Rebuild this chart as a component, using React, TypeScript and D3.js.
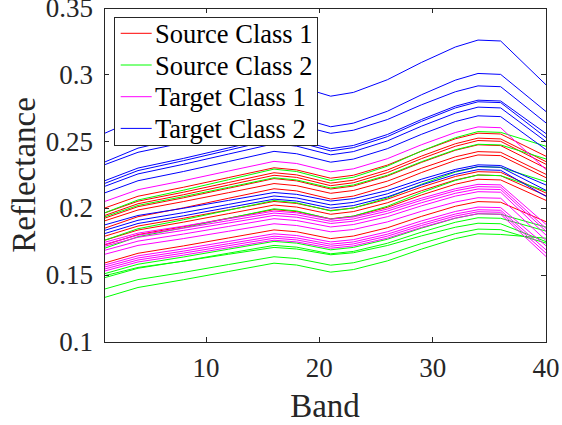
import React from "react";
import * as d3 from "d3";

// Band positions at which each spectrum is sampled
const bands = [1, 4, 8, 12, 16, 18, 21, 23, 26, 29, 32, 34, 36, 40];

// Source Class 1 spectra
const sourceClass1 = [
  [0.2001, 0.2091, 0.2158, 0.2231, 0.2304, 0.2288, 0.2226, 0.2248, 0.2324, 0.2428, 0.2521, 0.2563, 0.2557, 0.239],
  [0.1964, 0.2054, 0.2121, 0.2194, 0.2267, 0.2251, 0.2189, 0.2211, 0.2287, 0.2391, 0.2484, 0.2526, 0.252, 0.235],
  [0.1945, 0.2035, 0.2102, 0.2175, 0.2248, 0.2232, 0.217, 0.2192, 0.2268, 0.2372, 0.2465, 0.2508, 0.2502, 0.233],
  [0.1925, 0.2013, 0.2079, 0.2151, 0.2223, 0.2206, 0.2145, 0.2167, 0.2242, 0.2344, 0.2435, 0.2476, 0.247, 0.23],
  [0.1905, 0.1988, 0.2051, 0.2118, 0.2186, 0.217, 0.2113, 0.2134, 0.2204, 0.23, 0.2386, 0.2425, 0.242, 0.2255],
  [0.185, 0.1938, 0.2004, 0.2076, 0.2147, 0.2131, 0.207, 0.2092, 0.2166, 0.2268, 0.2359, 0.24, 0.2395, 0.223],
  [0.179, 0.1868, 0.1926, 0.1989, 0.2052, 0.2037, 0.1984, 0.2003, 0.2069, 0.2159, 0.2239, 0.2275, 0.227, 0.2115],
  [0.176, 0.1838, 0.1897, 0.1961, 0.2025, 0.201, 0.1956, 0.1976, 0.2042, 0.2132, 0.2213, 0.225, 0.2245, 0.2095],
  [0.1725, 0.1804, 0.1863, 0.1927, 0.1991, 0.1976, 0.1922, 0.1942, 0.2008, 0.21, 0.2181, 0.2218, 0.2213, 0.206],
  [0.159, 0.1664, 0.1719, 0.1779, 0.1839, 0.1825, 0.1774, 0.1793, 0.1855, 0.194, 0.2016, 0.2051, 0.2046, 0.19],
];

// Source Class 2 spectra
const sourceClass2 = [
  [0.1965, 0.2063, 0.2136, 0.2215, 0.2294, 0.2276, 0.2209, 0.2233, 0.2316, 0.2429, 0.2529, 0.2575, 0.2569, 0.2465],
  [0.1935, 0.2022, 0.2088, 0.2158, 0.2229, 0.2213, 0.2153, 0.2175, 0.2248, 0.2349, 0.2439, 0.248, 0.2475, 0.237],
  [0.176, 0.1848, 0.1915, 0.1987, 0.2059, 0.2042, 0.1981, 0.2003, 0.2078, 0.218, 0.2272, 0.2313, 0.2307, 0.22],
  [0.17, 0.1788, 0.1854, 0.1926, 0.1997, 0.1981, 0.192, 0.1942, 0.2016, 0.2118, 0.2209, 0.225, 0.2245, 0.213],
  [0.151, 0.1582, 0.1636, 0.1695, 0.1753, 0.174, 0.169, 0.1708, 0.1769, 0.1852, 0.1926, 0.196, 0.1956, 0.186],
  [0.1495, 0.1558, 0.1605, 0.1657, 0.1708, 0.1696, 0.1653, 0.1668, 0.1722, 0.1794, 0.1859, 0.1889, 0.1885, 0.1751],
  [0.148, 0.1552, 0.1606, 0.1665, 0.1723, 0.171, 0.166, 0.1678, 0.1739, 0.1822, 0.1896, 0.193, 0.1926, 0.183],
  [0.1395, 0.1467, 0.1521, 0.158, 0.1638, 0.1625, 0.1575, 0.1593, 0.1654, 0.1737, 0.1811, 0.1845, 0.1841, 0.174],
  [0.1332, 0.1408, 0.1466, 0.1528, 0.159, 0.1576, 0.1523, 0.1542, 0.1607, 0.1695, 0.1774, 0.181, 0.1805, 0.1777],
];

// Target Class 1 spectra
const targetClass1 = [
  [0.205, 0.214, 0.2207, 0.228, 0.2352, 0.2336, 0.2274, 0.2296, 0.2372, 0.2476, 0.2568, 0.261, 0.2604, 0.229],
  [0.1745, 0.1815, 0.1867, 0.1923, 0.198, 0.1967, 0.1919, 0.1936, 0.1995, 0.2076, 0.2147, 0.218, 0.2176, 0.188],
  [0.173, 0.18, 0.1852, 0.1908, 0.1965, 0.1952, 0.1904, 0.1921, 0.198, 0.2061, 0.2132, 0.2163, 0.2159, 0.185],
  [0.1715, 0.1784, 0.1835, 0.1891, 0.1947, 0.1934, 0.1887, 0.1904, 0.1962, 0.2042, 0.2113, 0.2145, 0.2141, 0.183],
  [0.1685, 0.1755, 0.1808, 0.1865, 0.1923, 0.1909, 0.1861, 0.1879, 0.1938, 0.2019, 0.2092, 0.2125, 0.2121, 0.18],
  [0.1655, 0.1723, 0.1774, 0.1829, 0.1885, 0.1872, 0.1825, 0.1842, 0.1899, 0.1978, 0.2048, 0.208, 0.2076, 0.176],
  [0.1575, 0.1645, 0.1697, 0.1753, 0.181, 0.1797, 0.1749, 0.1766, 0.1825, 0.1906, 0.1977, 0.201, 0.2006, 0.172],
  [0.156, 0.1629, 0.168, 0.1736, 0.1792, 0.1779, 0.1732, 0.1749, 0.1807, 0.1887, 0.1958, 0.199, 0.1986, 0.169],
  [0.1545, 0.1614, 0.1665, 0.1721, 0.1777, 0.1764, 0.1717, 0.1734, 0.1792, 0.1872, 0.1943, 0.1975, 0.1971, 0.1665],
  [0.153, 0.1599, 0.165, 0.1706, 0.1762, 0.1749, 0.1702, 0.1719, 0.1777, 0.1857, 0.1928, 0.196, 0.1956, 0.164],
];

// Target Class 2 spectra
const targetClass2 = [
  [0.256, 0.2672, 0.2756, 0.2847, 0.2938, 0.2917, 0.284, 0.2868, 0.2963, 0.3092, 0.3208, 0.326, 0.3253, 0.2925],
  [0.2345, 0.2451, 0.2531, 0.2618, 0.2704, 0.2684, 0.2611, 0.2638, 0.2727, 0.285, 0.296, 0.301, 0.3003, 0.2725],
  [0.2325, 0.242, 0.2491, 0.2568, 0.2645, 0.2627, 0.2562, 0.2585, 0.2665, 0.2775, 0.2873, 0.2917, 0.2911, 0.264],
  [0.2205, 0.2302, 0.2374, 0.2453, 0.2532, 0.2514, 0.2447, 0.2471, 0.2553, 0.2665, 0.2765, 0.281, 0.2804, 0.256],
  [0.2185, 0.2283, 0.2357, 0.2436, 0.2516, 0.2498, 0.243, 0.2455, 0.2537, 0.2651, 0.2752, 0.2798, 0.2792, 0.253],
  [0.2163, 0.2258, 0.233, 0.2407, 0.2484, 0.2466, 0.2401, 0.2425, 0.2505, 0.2615, 0.2713, 0.2758, 0.2752, 0.25],
  [0.2114, 0.2207, 0.2276, 0.2351, 0.2427, 0.2409, 0.2346, 0.2369, 0.2447, 0.2554, 0.265, 0.2693, 0.2687, 0.244],
  [0.1875, 0.1947, 0.2001, 0.206, 0.2119, 0.2105, 0.2055, 0.2073, 0.2134, 0.2218, 0.2292, 0.2326, 0.2321, 0.2175],
  [0.1834, 0.1911, 0.1968, 0.203, 0.2093, 0.2078, 0.2026, 0.2045, 0.2109, 0.2198, 0.2277, 0.2313, 0.2308, 0.2135],
  [0.181, 0.1887, 0.1944, 0.2007, 0.2069, 0.2055, 0.2002, 0.2021, 0.2086, 0.2175, 0.2254, 0.229, 0.2285, 0.209],
];

const seriesNames = ["Source Class 1", "Source Class 2", "Target Class 1", "Target Class 2"];
const seriesColors = ["#ff0000", "#00ff00", "#ff00ff", "#0000ff"];
const xTicks = [10, 20, 30, 40];
const yTicks = [0.1, 0.15, 0.2, 0.25, 0.3, 0.35];
const xLabel = "Band";
const yLabel = "Reflectance";

const W = 562;
const H = 425;
const left = 104;
const right = 546;
const top = 8;
const bottom = 342;
const axisColor = "#262626";
const font = "'Liberation Serif', 'Times New Roman', serif";

export default function App() {
  const x = d3.scaleLinear().domain([1, 40]).range([left, right]);
  const y = d3.scaleLinear().domain([0.1, 0.35]).range([bottom, top]);
  const line = d3
    .line<number>()
    .x((_, i) => x(bands[i]))
    .y((v) => y(v))
    .curve(d3.curveLinear);

  const groups = [sourceClass1, sourceClass2, targetClass1, targetClass2];
  const tickLen = 5;

  const legendX = 114;
  const legendY = 17;
  const legendW = 203;
  const legendH = 128;
  const rowGap = 31.7;

  return (
    <svg
      width={W}
      height={H}
      style={{ position: "absolute", left: 0, top: 0, background: "#fff" }}
      fontFamily={font}
    >
      <rect x={0} y={0} width={W} height={H} fill="#fff" />
      {/* spectra */}
      <g fill="none" strokeWidth={1}>
        {groups.map((g, gi) =>
          g.map((vals, li) => (
            <path key={`${gi}-${li}`} d={line(vals) || ""} stroke={seriesColors[gi]} />
          ))
        )}
      </g>

      {/* axes box */}
      <rect
        x={left}
        y={top}
        width={right - left}
        height={bottom - top}
        fill="none"
        stroke={axisColor}
        strokeWidth={1}
        shapeRendering="crispEdges"
      />
      <g stroke={axisColor} strokeWidth={1} shapeRendering="crispEdges">
        {xTicks.map((t) => (
          <g key={`xt${t}`}>
            <line x1={x(t)} x2={x(t)} y1={bottom} y2={bottom - tickLen} />
            <line x1={x(t)} x2={x(t)} y1={top} y2={top + tickLen} />
          </g>
        ))}
        {yTicks.map((t) => (
          <g key={`yt${t}`}>
            <line x1={left} x2={left + tickLen} y1={y(t)} y2={y(t)} />
            <line x1={right} x2={right - tickLen} y1={y(t)} y2={y(t)} />
          </g>
        ))}
      </g>

      {/* tick labels */}
      <g fill={axisColor} fontSize={27}>
        {xTicks.map((t) => (
          <text key={`xl${t}`} x={x(t)} y={376.5} textAnchor="middle">
            {t}
          </text>
        ))}
        {yTicks.map((t) => (
          <text key={`yl${t}`} x={93} y={y(t) + 9} textAnchor="end">
            {String(t)}
          </text>
        ))}
      </g>

      {/* axis titles */}
      <text x={(left + right) / 2} y={416.5} textAnchor="middle" fontSize={33} fill={axisColor}>
        {xLabel}
      </text>
      <text
        transform={`translate(35, ${(top + bottom) / 2}) rotate(-90)`}
        textAnchor="middle"
        fontSize={33}
        fill={axisColor}
      >
        {yLabel}
      </text>

      {/* legend */}
      <rect
        x={legendX}
        y={legendY}
        width={legendW}
        height={legendH}
        fill="#fff"
        stroke={axisColor}
        strokeWidth={1}
        shapeRendering="crispEdges"
      />
      {seriesNames.map((name, i) => {
        const ry = 33.3 + i * rowGap;
        return (
          <g key={name}>
            <line x1={120.7} x2={151.7} y1={ry} y2={ry} stroke={seriesColors[i]} strokeWidth={1} />
            <text x={155} y={ry + 9.5} fontSize={26.5} fill="#000">
              {name}
            </text>
          </g>
        );
      })}
    </svg>
  );
}
